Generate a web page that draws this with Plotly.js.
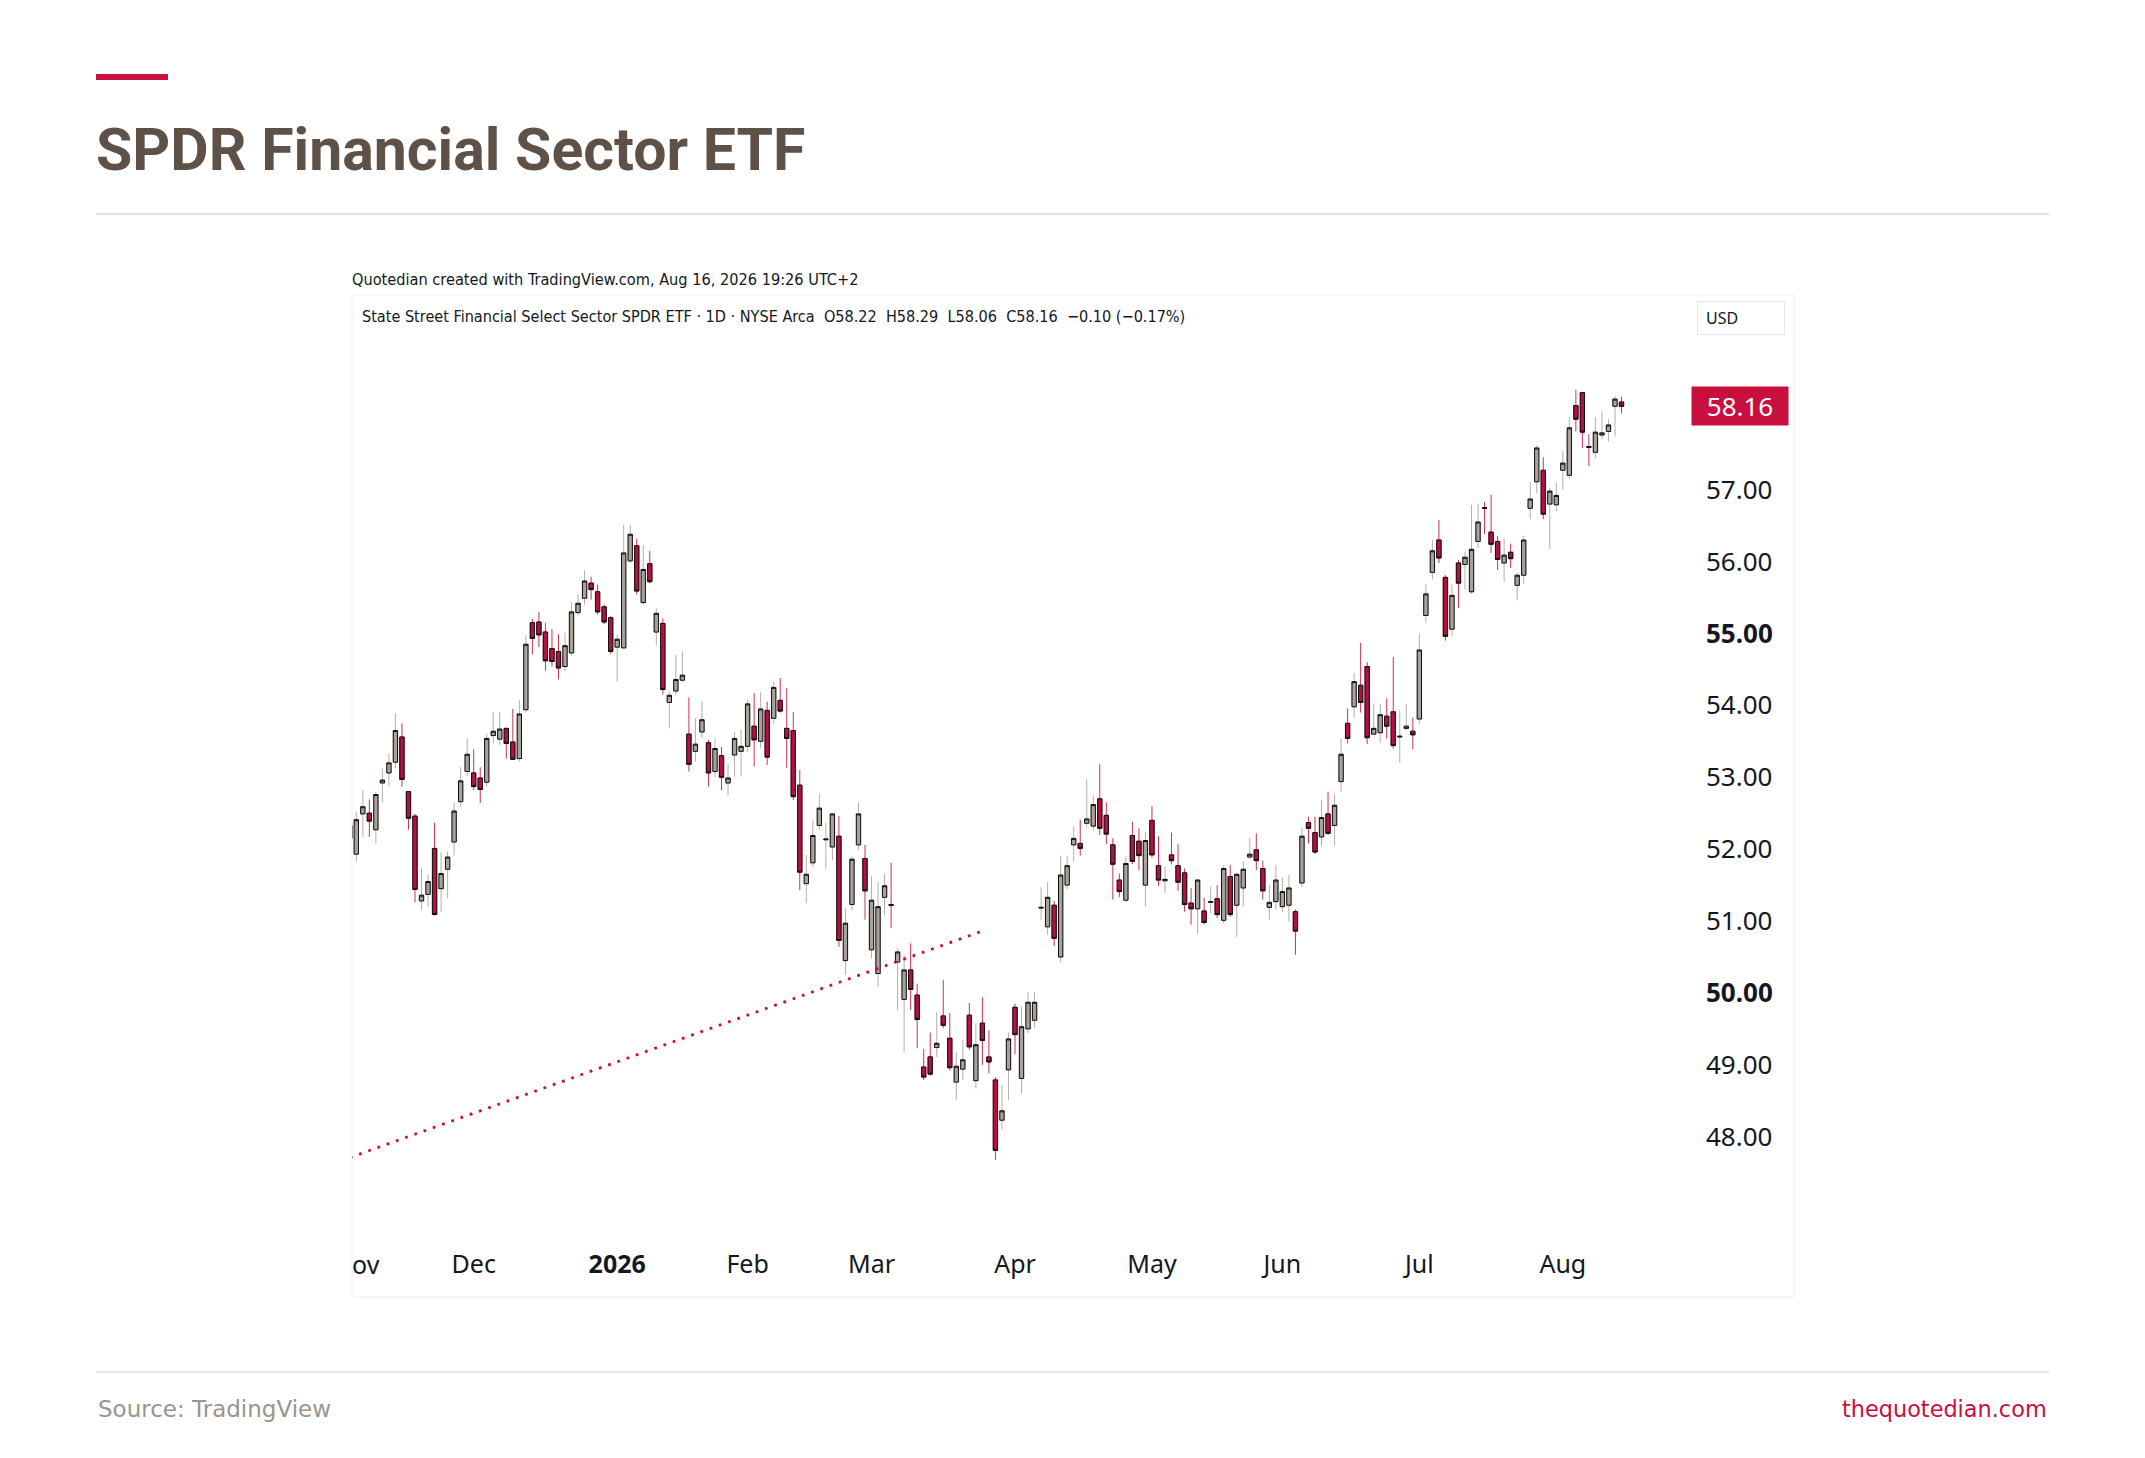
<!DOCTYPE html>
<html>
<head>
<meta charset="utf-8">
<script src="https://cdn.plot.ly/plotly-3.0.1.min.js"></script>
<style>
  html, body { margin: 0; padding: 0; background: #ffffff; }
  #chart { width: 2145px; height: 1458px; }
</style>
</head>
<body>
<div id="chart"></div>
<script>
// ---- Data (daily candles, trading day 0 = 3 Nov 2025, last = 14 Aug 2026) ----
const openV = [
52.15,51.93,52.49,52.50,52.27,52.92,53.06,53.21,53.56,52.80,
52.46,51.28,51.37,52.01,51.45,51.72,52.10,52.66,53.08,53.06,
52.99,52.93,53.58,53.53,53.68,53.49,53.26,53.94,55.15,55.16,
55.02,54.79,54.75,54.54,54.73,55.29,55.49,55.70,55.58,55.37,
55.22,54.81,54.80,56.01,56.22,55.43,55.97,55.02,55.14,54.04,
54.20,54.35,53.60,53.36,53.63,53.48,53.08,53.30,52.92,53.31,
53.36,53.43,53.71,53.50,53.93,53.82,54.07,53.68,53.65,52.89,
51.52,51.81,52.33,52.13,52.03,52.18,50.45,51.23,52.06,51.87,
50.60,50.27,51.33,51.23,50.43,49.91,50.32,49.97,48.97,49.11,
49.24,49.68,49.37,48.76,48.94,49.69,48.78,49.58,49.11,48.79,
48.23,48.93,49.80,48.81,49.50,49.62,51.18,50.92,51.22,50.50,
51.50,52.06,52.08,52.36,52.32,52.70,52.47,52.06,51.57,51.29,
52.19,52.11,51.50,52.40,51.77,51.56,51.92,51.77,51.67,51.25,
51.17,51.14,51.26,51.31,51.01,51.62,51.22,51.46,51.89,51.99,
51.73,51.19,51.27,51.20,51.22,51.13,51.53,52.37,52.23,52.17,
52.49,52.33,52.94,53.75,53.98,54.28,54.54,53.60,53.62,53.85,
53.91,53.56,53.68,53.64,53.81,55.25,55.85,56.30,55.78,55.06,
55.98,55.96,55.58,56.28,56.75,56.41,56.28,55.98,56.13,55.67,
55.81,56.74,57.11,57.27,56.80,56.79,57.27,57.20,58.17,58.35,
57.60,57.52,57.76,57.81,58.16,58.22
];
const highV = [
52.45,52.52,52.82,52.69,52.80,53.12,53.33,53.89,53.75,52.81,
52.49,51.73,51.64,52.37,51.96,51.97,52.65,53.14,53.54,53.39,
53.14,53.60,53.90,53.91,53.69,53.95,54.07,54.98,55.20,55.30,
55.15,55.06,54.99,55.01,55.43,55.55,55.88,55.79,55.68,55.40,
55.24,54.98,56.51,56.51,56.32,56.23,56.15,55.35,55.21,54.19,
54.70,54.75,54.11,53.82,54.05,53.52,53.54,53.42,53.19,53.63,
53.66,54.08,54.17,54.18,54.05,54.33,54.38,54.24,53.91,53.10,
51.92,52.41,52.77,52.37,52.49,52.46,51.18,51.90,52.65,52.06,
51.62,51.55,51.66,51.81,50.62,50.53,50.69,50.13,49.22,49.45,
49.73,50.18,49.72,49.18,49.35,49.86,49.58,49.94,49.48,48.83,
48.72,49.45,49.85,49.80,50.01,50.01,51.47,51.54,51.28,51.91,
51.91,52.32,52.41,52.97,52.75,53.18,52.65,52.15,51.66,51.90,
52.38,52.29,52.24,52.60,52.18,51.76,52.23,52.07,51.73,51.46,
51.58,51.32,51.48,51.50,51.77,51.78,51.67,51.83,52.16,52.22,
51.84,51.50,51.78,51.60,51.64,51.16,52.30,52.45,52.45,52.69,
52.80,52.77,53.54,53.96,54.45,54.87,54.60,54.01,54.02,54.10,
54.67,53.93,54.02,53.83,55.00,55.68,56.30,56.58,55.81,55.68,
56.02,56.14,56.79,56.80,56.83,56.93,56.36,56.32,56.25,55.85,
56.36,57.11,57.62,57.45,57.03,57.10,57.54,58.01,58.39,58.36,
57.77,58.01,58.09,57.98,58.30,58.29
];
const lowV = [
52.05,51.83,52.17,52.17,52.08,52.65,52.87,53.12,52.87,52.27,
51.26,51.15,51.20,51.08,51.13,51.32,51.91,52.59,53.01,52.82,
52.64,52.87,53.47,53.45,53.26,53.24,53.22,53.90,54.71,54.81,
54.48,54.54,54.36,54.48,54.68,55.25,55.40,55.47,55.26,55.13,
54.72,54.33,54.78,55.98,55.54,55.40,55.70,54.84,54.15,53.68,
54.15,54.32,53.08,53.22,53.55,52.87,53.00,52.82,52.75,53.01,
53.01,53.35,53.15,53.40,53.17,53.75,53.90,53.13,52.68,51.43,
51.25,51.75,52.27,51.73,51.85,50.64,50.25,51.15,51.99,51.02,
50.48,50.09,51.08,50.90,49.76,49.18,49.76,49.23,48.79,48.85,
49.11,49.51,48.92,48.51,48.79,49.21,48.67,49.00,48.88,47.68,
48.10,48.51,49.15,48.60,49.44,49.51,51.02,50.81,50.65,50.42,
51.44,51.83,51.91,52.30,52.26,52.20,52.07,51.30,51.33,51.27,
51.79,51.71,51.20,51.88,51.49,51.39,51.79,51.42,51.13,50.95,
50.82,50.95,51.11,51.04,50.97,51.06,50.78,51.20,51.87,51.71,
51.30,51.02,51.16,51.12,50.99,50.53,51.47,52.08,51.93,52.04,
52.20,52.04,52.80,53.47,53.83,53.90,53.46,53.59,53.48,53.54,
53.40,53.20,53.65,53.39,53.74,55.15,55.75,55.98,54.90,54.96,
55.35,55.61,55.55,56.19,56.38,56.12,55.88,55.72,55.91,55.46,
55.69,56.59,56.95,56.59,56.17,56.70,57.00,57.15,57.81,57.58,
57.33,57.44,57.70,57.67,57.74,58.06
];
const closeV = [
52.33,52.41,52.59,52.39,52.76,52.96,53.20,53.65,52.97,52.43,
51.44,51.36,51.55,51.09,51.66,51.89,52.53,52.95,53.32,52.87,
52.83,53.54,53.64,53.67,53.47,53.25,53.88,54.85,54.93,54.98,
54.62,54.61,54.52,54.83,55.30,55.42,55.73,55.61,55.30,55.16,
54.75,54.92,56.12,56.38,55.59,55.89,55.72,55.28,54.22,54.14,
54.36,54.42,53.18,53.46,53.80,53.06,53.40,53.00,52.99,53.54,
53.43,54.02,53.52,53.95,53.28,54.25,53.92,53.54,52.73,51.68,
51.65,52.19,52.57,52.14,52.49,50.73,50.97,51.86,52.49,51.42,
51.29,51.20,51.49,51.22,50.57,50.32,50.05,49.63,48.83,48.87,
49.30,49.55,48.96,48.98,49.07,49.25,49.28,49.34,49.04,47.81,
48.36,49.36,49.42,49.53,49.87,49.87,51.19,51.33,50.76,51.64,
51.77,52.15,52.01,52.42,52.62,52.29,52.21,51.79,51.41,51.80,
51.83,51.91,52.12,51.92,51.57,51.58,51.84,51.54,51.23,51.17,
51.57,50.98,51.27,51.09,51.73,51.09,51.65,51.72,51.93,51.84,
51.42,51.26,51.57,51.41,51.46,50.86,52.18,52.29,51.96,52.44,
52.22,52.61,53.32,53.54,54.33,54.04,53.55,53.68,53.87,53.71,
53.44,53.57,53.71,53.59,54.77,55.55,56.15,56.05,54.96,55.53,
55.70,56.06,56.17,56.55,56.74,56.24,56.03,56.09,56.04,55.81,
56.30,56.87,57.58,56.66,56.98,56.92,57.37,57.86,57.98,57.80,
57.59,57.80,57.79,57.90,58.26,58.16
];
// first trading day of each month (index into the series) and its label
const monthTickIdx  = [0, 19, 41, 61, 80, 102, 123, 143, 164, 186];
const monthTickText = ['Nov', 'Dec', '<b>2026</b>', 'Feb', 'Mar', 'Apr', 'May', 'Jun', 'Jul', 'Aug'];
// price scale labels
const priceTicks = [48, 49, 50, 51, 52, 53, 54, 55, 56, 57];
const priceTickText = ['48.00', '49.00', '<b>50.00</b>', '51.00', '52.00', '53.00', '54.00', '<b>55.00</b>', '56.00', '57.00'];
// dotted trend line (start / end points: trading-day index, price)
const trendIdx = [0, 97.6];
const trendPrice = [47.71, 50.88];
const lastPrice = 58.16;

// ---- Layout geometry (pixels) ----
const W = 2145, H = 1458;
const PL = 352, PR = 1690, PT = 340, PB = 1235;
const px2x = X => (X - PL) / (PR - PL);
const px2y = Y => (PB - Y) / (PB - PT);

const dayIdx = openV.map((_, i) => i);
const bodyHigh = openV.map((o, i) => Math.max(o, closeV[i]));
const bodyLow = openV.map((o, i) => Math.min(o, closeV[i]));

const UP_FILL = '#a8a29b', DN_FILL = '#b3123f';
const UP_WICK = '#b4afa8', DN_WICK = '#c8325a';
const CRIMSON = '#c8103c';

const wicks = {
  type: 'candlestick', x: dayIdx, open: openV, high: highV, low: lowV, close: closeV,
  increasing: { line: { color: UP_WICK, width: 1 }, fillcolor: UP_FILL },
  decreasing: { line: { color: DN_WICK, width: 1 }, fillcolor: DN_FILL },
  hoverinfo: 'skip', showlegend: false
};
const bodies = {
  type: 'candlestick', x: dayIdx, open: openV, high: bodyHigh, low: bodyLow, close: closeV,
  increasing: { line: { color: '#111111', width: 1 }, fillcolor: UP_FILL },
  decreasing: { line: { color: '#111111', width: 1 }, fillcolor: DN_FILL },
  hoverinfo: 'skip', showlegend: false
};
const trend = {
  type: 'scatter', mode: 'lines', x: trendIdx, y: trendPrice,
  line: { color: CRIMSON, width: 2.8, dash: '2.8px,7px' },
  hoverinfo: 'skip', showlegend: false
};

const txt = (text, X, Y, opts) => Object.assign({
  text: text, xref: 'paper', yref: 'paper', x: px2x(X), y: px2y(Y),
  xanchor: 'left', yanchor: 'middle', showarrow: false
}, opts);

const layout = {
  width: W, height: H,
  margin: { l: PL, r: W - PR, t: PT, b: H - PB, pad: 0 },
  paper_bgcolor: '#ffffff', plot_bgcolor: '#ffffff',
  boxgap: 0.34, boxgroupgap: 0,
  showlegend: false,
  xaxis: {
    type: 'linear', range: [0.34, 205.5], fixedrange: true,
    tickmode: 'array', tickvals: monthTickIdx, ticktext: monthTickText,
    tickfont: { family: 'Noto Sans', size: 25, color: '#131722' },
    showgrid: false, zeroline: false, showline: false, ticks: '',
    ticklabelstandoff: 12,
    rangeslider: { visible: false }
  },
  yaxis: {
    side: 'right', range: [46.633, 59.082], fixedrange: true,
    tickmode: 'array', tickvals: priceTicks, ticktext: priceTickText,
    tickfont: { family: 'Noto Sans', size: 26, color: '#131722' },
    showgrid: false, zeroline: false, showline: false, ticks: '',
    ticklabelstandoff: 15
  },
  shapes: [
    { type: 'rect', xref: 'paper', yref: 'paper', x0: px2x(96), x1: px2x(168), y0: px2y(80), y1: px2y(74),
      fillcolor: CRIMSON, line: { width: 0 } },
    { type: 'line', xref: 'paper', yref: 'paper', x0: px2x(96), x1: px2x(2049), y0: px2y(214), y1: px2y(214),
      line: { color: '#dadada', width: 1.5 } },
    { type: 'line', xref: 'paper', yref: 'paper', x0: px2x(96), x1: px2x(2049), y0: px2y(1372), y1: px2y(1372),
      line: { color: '#dadada', width: 1.5 } },
    { type: 'rect', xref: 'paper', yref: 'paper', x0: px2x(352), x1: px2x(1794), y0: px2y(1297), y1: px2y(295),
      fillcolor: 'rgba(0,0,0,0)', line: { color: '#eceef2', width: 1 }, layer: 'below' }
  ],
  annotations: [
    txt('SPDR Financial Sector ETF', 94, 149,
        { font: { family: 'Roboto', size: 59, color: '#5e5248', weight: 700 } }),
    txt('Quotedian created with TradingView.com, Aug 16, 2026 19:26 UTC+2', 350, 279,
        { font: { family: 'DejaVu Sans Condensed, Liberation Sans Narrow, Roboto', size: 16.2, color: '#131722' } }),
    txt('State Street Financial Select Sector SPDR ETF · 1D · NYSE Arca\u00a0\u00a0O58.22\u00a0\u00a0H58.29\u00a0\u00a0L58.06\u00a0\u00a0C58.16\u00a0\u00a0\u22120.10 (\u22120.17%)', 360, 316,
        { font: { family: 'DejaVu Sans Condensed, Liberation Sans Narrow, Roboto', size: 16.1, color: '#131722' } }),
    txt('USD', 1697, 318,
        { width: 70, height: 16, borderpad: 8, align: 'left', bordercolor: '#e3e5ea', borderwidth: 1,
          font: { family: 'Noto Sans', size: 16, color: '#131722' } }),
    { text: lastPrice.toFixed(2), xref: 'paper', yref: 'y', x: px2x(1691), y: lastPrice,
      xanchor: 'left', yanchor: 'middle', showarrow: false, width: 94, height: 36,
      bgcolor: '#c90f3e', font: { family: 'Noto Sans', size: 26, color: '#ffffff' } },
    txt('ov', 350, 1264, { font: { family: 'Noto Sans', size: 25, color: '#131722' } }),
    txt('Source: TradingView', 96, 1409, { font: { family: 'DejaVu Sans', size: 23, color: '#9b948d' } }),
    txt('thequotedian.com', 2049, 1409,
        { xanchor: 'right', font: { family: 'DejaVu Sans', size: 22.4, color: CRIMSON } })
  ]
};

Plotly.newPlot('chart', [wicks, bodies, trend], layout, { staticPlot: true, displayModeBar: false });
</script>
</body>
</html>
